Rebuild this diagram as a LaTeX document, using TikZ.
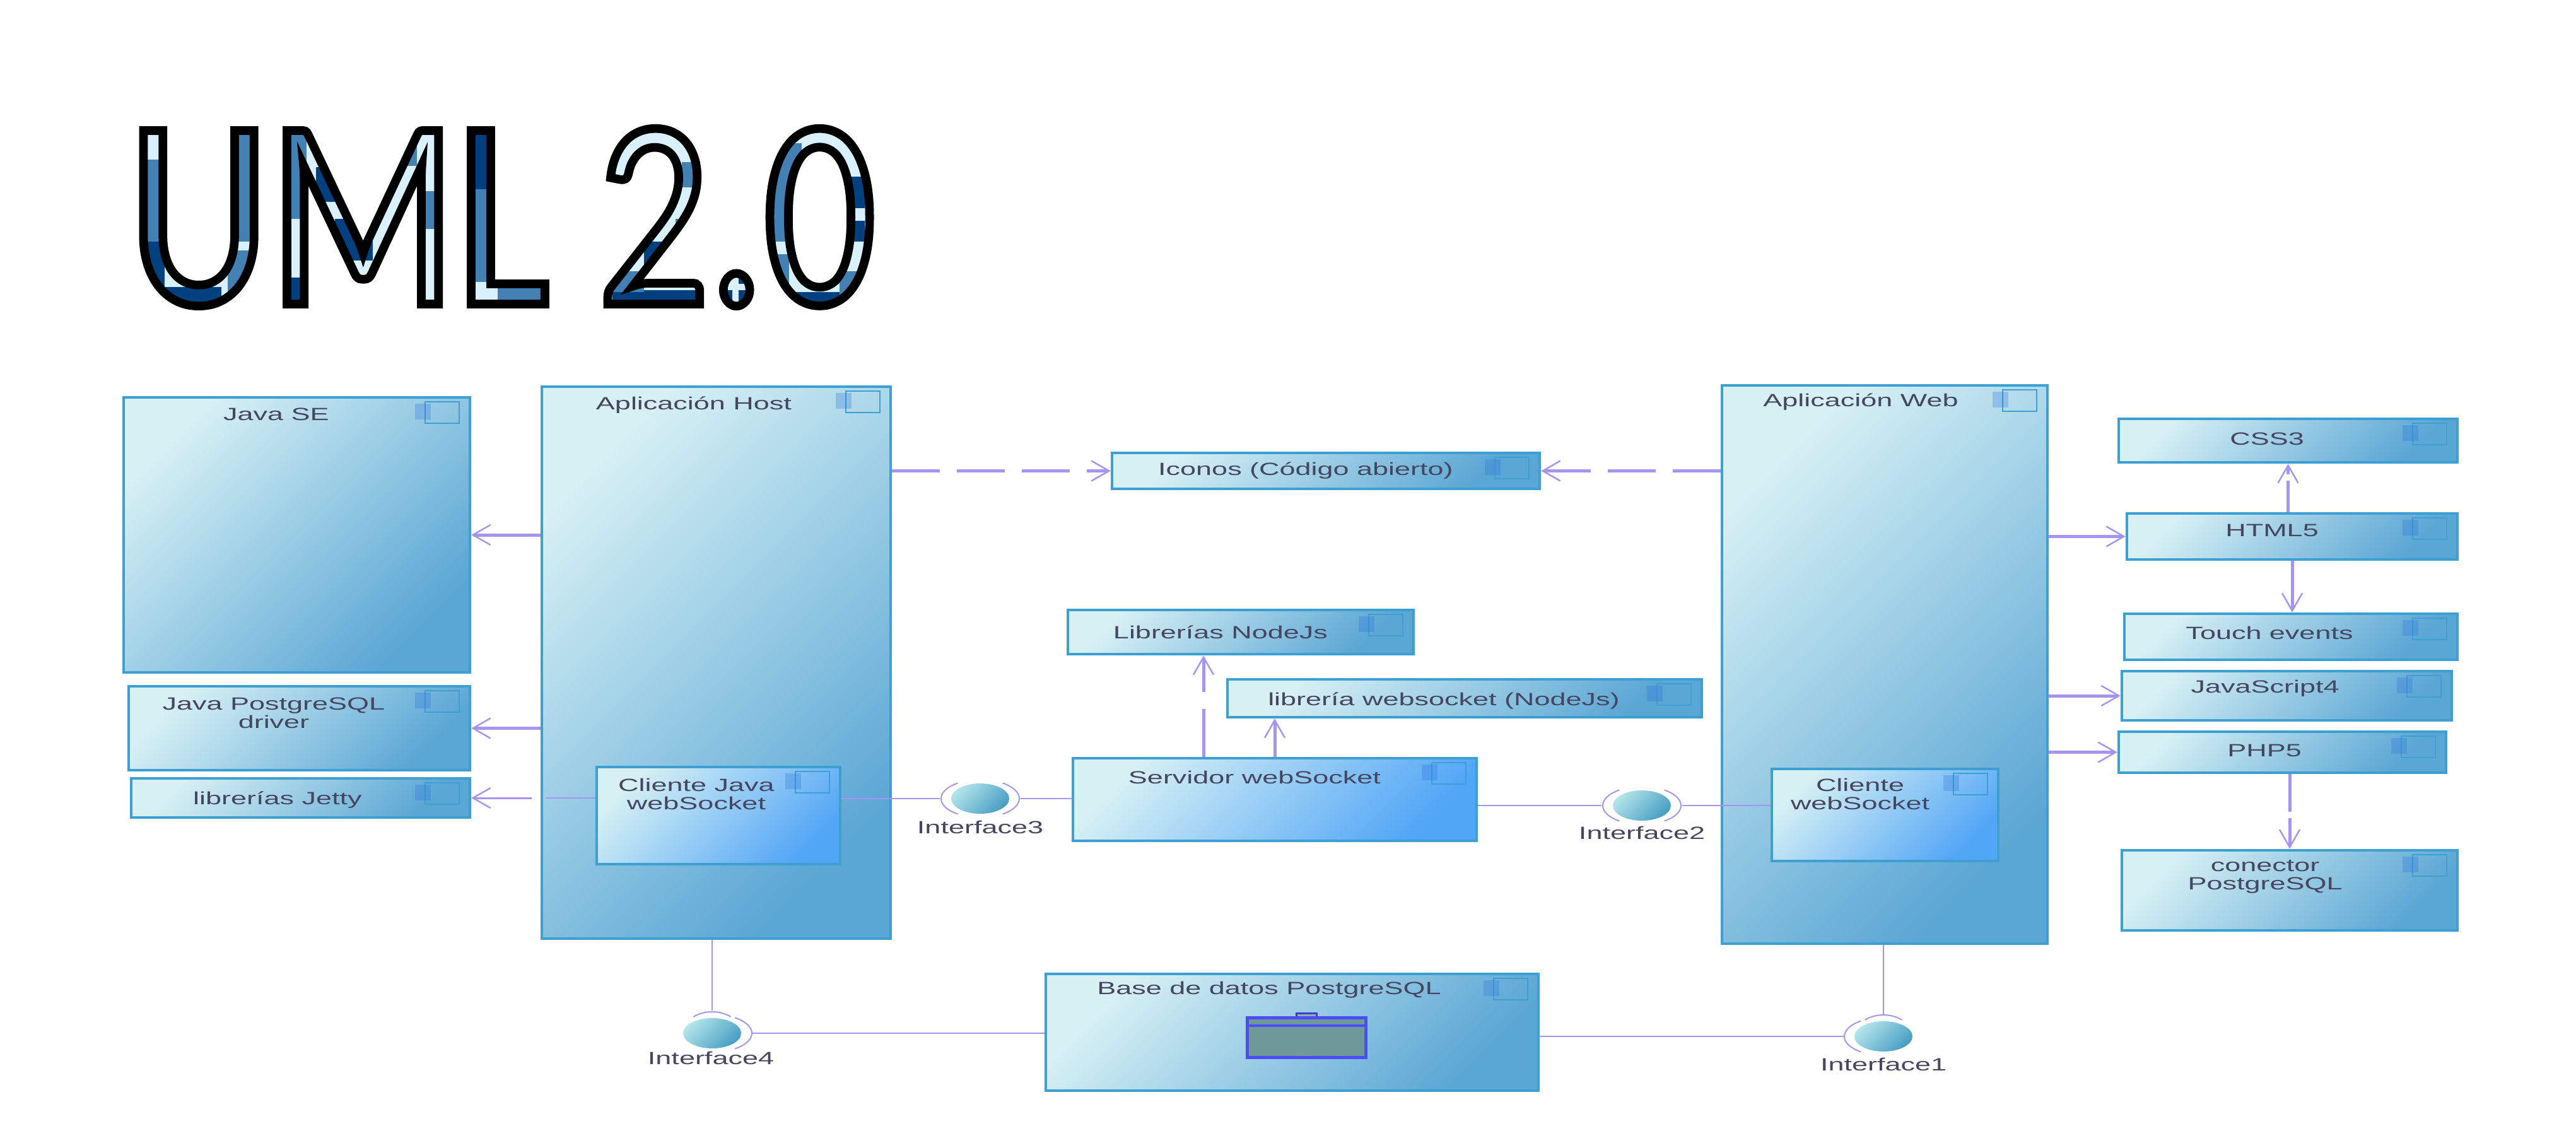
\documentclass[tikz,border=0pt]{standalone}
\usepackage{fontspec}
\usetikzlibrary{arrows.meta, positioning, shapes.geometric}
\newfontfamily\umlfont[FakeStretch=1.6]{Liberation Sans}
\newfontfamily\titlefont[FakeStretch=0.81]{Carlito}
\definecolor{boxlight}{HTML}{D6F0F4}
\definecolor{boxmid}{HTML}{A0DEE6}
\definecolor{boxdark}{HTML}{5AA6D4}
\definecolor{bluedark}{HTML}{52A6F6}
\definecolor{boxline}{HTML}{3EA0D2}
\definecolor{connline}{HTML}{A594F0}
\definecolor{labelgray}{HTML}{464660}
\definecolor{wavelight}{HTML}{D9F1FD}
\definecolor{wavemid}{HTML}{4380B4}
\definecolor{wavedark}{HTML}{024080}
\newsavebox{\titlebox}
% the blue waves seen through the letters of the title
\newcommand{\titlewaves}{%
    \fill[wavelight] (1.8,-1.8) rectangle (14.2,-5.2);
    \foreach \xa/\ya/\xb/\yb in {2.2/-3.83/2.6/-5, 2.4/-4.55/3.5/-5, 4.5/-4.4/4.85/-4.9, 5.0/-2.65/5.4/-3.2, 5.3/-3.47/5.9/-4.13,
        6.3/-3.47/6.6/-3.63, 7.4/-2/7.7/-3, 10.2/-3.83/10.7/-4.3, 9.7/-4.6/11.6/-5, 11.7/-4.3/12.2/-4.5, 11.7/-4.6/12.2/-5,
        13.1/-2.8/13.7/-3.3, 13.1/-3.5/13.7/-3.83, 12.3/-4.63/13.3/-5}
        \fill[wavedark] (\xa,\ya) rectangle (\xb,\yb);
    \foreach \xa/\ya/\xb/\yb in {2.2/-2.53/2.6/-3.83, 3.7/-2/4/-3.83, 3.6/-3.97/4/-5, 4.5/-2/4.85/-3.47, 6.6/-3.03/6.9/-3.63,
        6.3/-2.3/6.6/-2.63, 7.4/-3/7.7/-4.47, 7.88/-4.47/8.7/-4.9, 10.8/-2.57/11.1/-2.97, 10.7/-3.47/11.1/-3.83,
        9.7/-4.3/10.2/-4.63, 12.2/-2.27/12.7/-3.83, 12.1/-4.03/12.5/-4.63, 13.3/-4.3/13.6/-4.8}
        \fill[wavemid] (\xa,\ya) rectangle (\xb,\yb);
}
\tikzset{
    >={Straight Barb[length=2.8mm,width=3.2mm,line width=0.25mm]}, % open arrow heads
    comp/.style={draw=boxline, line width=0.45mm, inner sep=0pt, shading=axis,
        top color=boxlight, middle color=boxmid, bottom color=boxdark, shading angle=45},
    compblue/.style={comp, top color=boxlight, middle color=boxmid!60!bluedark, bottom color=bluedark, shading angle=45},
    lbl/.style={font=\umlfont\fontsize{8}{8.3}\selectfont, text=labelgray, align=center, inner sep=0pt},
    titletext/.style={inner sep=0pt, anchor=base west, font=\titlefont\fontsize{122}{122}\selectfont},
    dep/.style={->, draw=connline, line width=0.5mm},
    depdash/.style={dep, dash pattern=on 7.6mm off 2.7mm},
    conn/.style={draw=connline, line width=0.28mm},
    iface/.style={ellipse, inner sep=0pt, minimum width=9.2mm, minimum height=4.8mm, shading=axis,
        top color=boxmid!80!white, bottom color=boxdark!80!teal, shading angle=45},
    halo/.style={draw=connline, line width=0.2mm},
}
\begin{document}
\begin{tikzpicture}
    \useasboundingbox (0,0) rectangle (40.84,-17.93);

    % title
    \node[titletext] at (2.03,-4.82) (TitleFill) {\sbox{\titlebox}{UML 2.0}%
        \special{pdf:code q 7 Tr}\usebox{\titlebox}\special{pdf:code 0 Tr}\hskip-\wd\titlebox
        \tikz[overlay,shift={(-2.03,4.82)}]{\titlewaves}\hskip\wd\titlebox\special{pdf:code Q}};
    \node[titletext] at (2.03,-4.82) (Title) {\special{pdf:code q 1 Tr 3.9 w 0 0 0 RG}UML 2.0\special{pdf:code Q}};

    % left column
    \node[comp, minimum width=54.9mm, minimum height=43.6mm] at (4.705,-8.48) (JavaSE) {};
    \node[comp, minimum width=54.1mm, minimum height=13.3mm] at ([xshift=0.4mm,yshift=-30.65mm]JavaSE) (JavaPg) {};
    \node[comp, minimum width=53.7mm, minimum height=6.2mm] at ([xshift=0.2mm,yshift=-11.05mm]JavaPg) (Jetty) {};

    % host application
    \node[comp, minimum width=55.3mm, minimum height=87.5mm] at ([xshift=66.5mm,yshift=-20.25mm]JavaSE) (Host) {};
    \node[compblue, minimum width=38.6mm, minimum height=15.4mm] at ([xshift=0.35mm,yshift=-24.25mm]Host) (CliJava) {};

    % centre
    \node[iface] at ([xshift=41.5mm,yshift=2.7mm]CliJava) (If3) {};
    \node[compblue, minimum width=64mm, minimum height=13.1mm] at ([xshift=46.7mm,yshift=-0.15mm]If3) (Servidor) {};
    \node[comp, minimum width=54.8mm, minimum height=7mm] at ([xshift=-5.4mm,yshift=26.55mm]Servidor) (LibNode) {};
    \node[comp, minimum width=75.2mm, minimum height=6mm] at ([xshift=30.1mm,yshift=16.05mm]Servidor) (LibWs) {};
    \node[comp, minimum width=67.8mm, minimum height=5.7mm] at ([xshift=13.5mm,yshift=25.55mm]LibNode) (Iconos) {};
    \node[iface] at ([xshift=58.2mm,yshift=-0.95mm]Servidor) (If2) {};
    \node[comp, minimum width=78.1mm, minimum height=18.5mm] at ([xshift=2.75mm,yshift=-36.9mm]Servidor) (BaseDatos) {};
    \node[iface] at ([xshift=-91.95mm,yshift=-0.15mm]BaseDatos) (If4) {};
    \node[iface] at ([xshift=93.75mm,yshift=-0.65mm]BaseDatos) (If1) {};

    % web application
    \node[comp, minimum width=51.6mm, minimum height=88.5mm] at ([xshift=38.5mm,yshift=22.35mm]If2) (Web) {};
    \node[compblue, minimum width=35.9mm, minimum height=14.6mm] at ([xshift=0.05mm,yshift=-23.85mm]Web) (CliWeb) {};

    % right column
    \node[comp, minimum width=53.7mm, minimum height=6.9mm] at ([xshift=63.95mm,yshift=35.5mm]Web) (CSS) {};
    \node[comp, minimum width=52.4mm, minimum height=7.3mm] at ([xshift=0.65mm,yshift=-15.2mm]CSS) (HTML) {};
    \node[comp, minimum width=52.8mm, minimum height=7.3mm] at ([xshift=-0.2mm,yshift=-15.9mm]HTML) (Touch) {};
    \node[comp, minimum width=52.3mm, minimum height=7.8mm] at ([xshift=-0.65mm,yshift=-9.35mm]Touch) (JS) {};
    \node[comp, minimum width=51.9mm, minimum height=6.5mm] at ([xshift=-0.7mm,yshift=-8.95mm]JS) (PHP) {};
    \node[comp, minimum width=53.2mm, minimum height=12.7mm] at ([xshift=1.15mm,yshift=-21.9mm]PHP) (Conector) {};

    % component icons
    \foreach \comp in {JavaSE,JavaPg,Jetty,Host,CliJava,Servidor,LibNode,LibWs,Iconos,BaseDatos,Web,CliWeb,CSS,HTML,Touch,JS,PHP,Conector} {
        \draw[boxline, line width=0.2mm] ([xshift=-7.3mm,yshift=-0.9mm]\comp.north east) rectangle ++(5.4mm,-3.4mm);
        \fill[boxline!70!blue, opacity=0.28] ([xshift=-8.9mm,yshift=-1.2mm]\comp.north east) rectangle ++(2.5mm,-2.5mm);
    }

    % database icon
    \node[draw=blue!70!white, line width=0.5mm, fill=gray!60!teal!80, inner sep=0pt, minimum width=18.8mm, minimum height=6.3mm]
        at ([xshift=2.25mm,yshift=-0.8mm]BaseDatos) (DbIcon) {};
    \draw[blue!70!white, line width=0.4mm] ([yshift=-1.5mm]DbIcon.north west) -- ([yshift=-1.5mm]DbIcon.north east);
    \draw[blue!50!gray, line width=0.3mm, fill=gray!50!teal!60] ([xshift=-1.6mm]DbIcon.north) -- ++(0,0.4mm) -- ++(3.2mm,0) -- ++(0,-0.4mm);

    % labels
    \node[lbl] at ([xshift=-3.25mm,yshift=19.1mm]JavaSE.center) (JavaSEt) {Java SE};
    \node[lbl] at ([xshift=-4.05mm,yshift=2.45mm]JavaPg.center) (JavaPgt) {Java PostgreSQL\\driver};
    \node[lbl] at ([xshift=-3.65mm,yshift=-0.3mm]Jetty.center) (Jettyt) {librerías Jetty};
    \node[lbl] at ([xshift=-3.55mm,yshift=40.8mm]Host.center) (Hostt) {Aplicación Host};
    \node[lbl] at ([xshift=-3.5mm,yshift=3.4mm]CliJava.center) (CliJavat) {Cliente Java\\webSocket};
    \node[lbl] at ([xshift=-3.2mm]Iconos.center) (Iconost) {Iconos (Código abierto)};
    \node[lbl] at ([xshift=-3.2mm]LibNode.center) (LibNodet) {Librerías NodeJs};
    \node[lbl] at ([xshift=-3.3mm,yshift=-0.4mm]LibWs.center) (LibWst) {librería websocket (NodeJs)};
    \node[lbl] at ([xshift=-3.2mm,yshift=3.55mm]Servidor.center) (Servidort) {Servidor webSocket};
    \node[lbl] at ([xshift=-3.65mm,yshift=6.75mm]BaseDatos.center) (BaseDatost) {Base de datos PostgreSQL};
    \node[lbl] at ([xshift=-3.8mm,yshift=41.6mm]Web.center) (Webt) {Aplicación Web};
    \node[lbl] at ([xshift=-3.95mm,yshift=3.3mm]CliWeb.center) (CliWebt) {Cliente\\webSocket};
    \node[lbl] at ([xshift=-3.35mm,yshift=0.3mm]CSS.center) (CSSt) {CSS3};
    \node[lbl] at ([xshift=-3.2mm,yshift=0.95mm]HTML.center) (HTMLt) {HTML5};
    \node[lbl] at ([xshift=-3.4mm,yshift=0.65mm]Touch.center) (Toucht) {Touch events};
    \node[lbl] at ([xshift=-3.45mm,yshift=1.2mm]JS.center) (JSt) {JavaScript4};
    \node[lbl] at ([xshift=-2.85mm,yshift=0.25mm]PHP.center) (PHPt) {PHP5};
    \node[lbl] at ([xshift=-3.9mm,yshift=2.15mm]Conector.center) (Conectort) {conector\\PostgreSQL};
    \node[lbl] at ([yshift=-4.5mm]If3.center) (If3t) {Interface3};
    \node[lbl] at ([yshift=-4.3mm]If2.center) (If2t) {Interface2};
    \node[lbl] at ([xshift=-0.2mm,yshift=-3.9mm]If4.center) (If4t) {Interface4};
    \node[lbl] at ([yshift=-4.4mm]If1.center) (If1t) {Interface1};

    % connectors
    \draw[dep] (Host.west |- JavaSE.east) -- (JavaSE.east);
    \draw[dep] (Host.west |- JavaPg.east) -- (JavaPg.east);
    \draw[dep, line width=0.3mm] ([xshift=-1.4mm]Host.west |- Jetty.east) -- (Jetty.east);
    \draw[conn] (CliJava.west |- Jetty.east) -- ([xshift=0.8mm]Host.west |- Jetty.east);
    \draw[depdash] (Host.east |- Iconos.west) -- (Iconos.west);
    \draw[depdash] (Web.west |- Iconos.east) -- (Iconos.east);
    \draw[depdash] ([xshift=-5.9mm]LibNode.south |- Servidor.north) -- ([xshift=-5.9mm]LibNode.south);
    \draw[dep] (Servidor.north) -- (Servidor.north |- LibWs.south);

    \draw[conn] (CliJava.east |- If3.west) -- ([xshift=-1.7mm]If3.west);
    \draw[conn] ([xshift=1.7mm]If3.east) -- (Servidor.west |- If3.east);
    \draw[conn] (Servidor.east |- If2.west) -- ([xshift=-1.7mm]If2.west);
    \draw[conn] ([xshift=1.7mm]If2.east) -- (CliWeb.west |- If2.east);
    \draw[conn] (Host.south -| If4.north) -- ([yshift=1.1mm]If4.north);
    \draw[conn] ([xshift=1.7mm]If4.east) -- (BaseDatos.west |- If4.east);
    \draw[conn] (BaseDatos.east |- If1.west) -- ([xshift=-1.6mm]If1.west);
    \draw[conn] (Web.south -| If1.north) -- ([yshift=0.8mm]If1.north);

    \draw[dep] (Web.east |- HTML.west) -- (HTML.west);
    \draw[dep] (Web.east |- JS.west) -- (JS.west);
    \draw[dep] (Web.east |- PHP.west) -- (PHP.west);
    \draw[dep, dash pattern=on 5mm off 1mm] (HTML.north -| CSS.south) -- (CSS.south);
    \draw[dep] (HTML.south) -- (HTML.south |- Touch.north);
    \draw[dep, dash pattern=on 6mm off 1mm] (Conector.north |- PHP.south) -- (Conector.north);

    % interface halos
    \foreach \ifc in {If2,If3} {
        \draw[halo] (\ifc.center) ++(125:6.2mm and 3mm) arc[start angle=125,end angle=235,x radius=6.2mm,y radius=3mm];
        \draw[halo] (\ifc.center) ++(-55:6.2mm and 3mm) arc[start angle=-55,end angle=55,x radius=6.2mm,y radius=3mm];
    }
    \draw[halo] (If1.center) ++(125:6.2mm and 3mm) arc[start angle=125,end angle=235,x radius=6.2mm,y radius=3mm];
    \draw[halo] (If4.center) ++(-55:6.3mm and 3mm) arc[start angle=-55,end angle=55,x radius=6.3mm,y radius=3mm];
    \foreach \ifc in {If1,If4} {
        \draw[halo] (\ifc.center) ++(50:4.6mm and 3.4mm) arc[start angle=50,end angle=130,x radius=4.6mm,y radius=3.4mm];
    }
\end{tikzpicture}
\end{document}
